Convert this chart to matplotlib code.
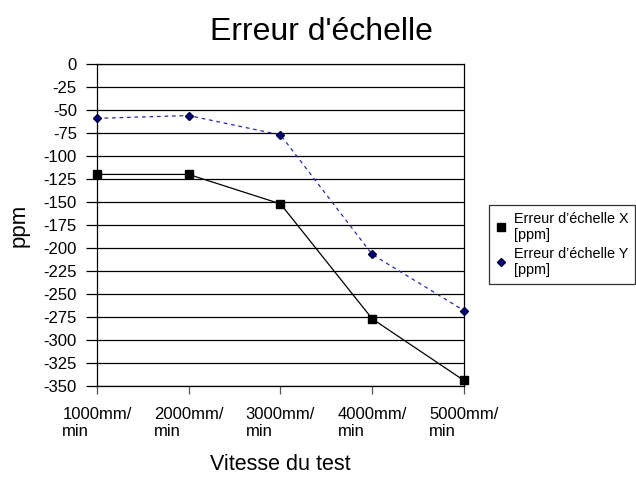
import matplotlib.pyplot as plt
from matplotlib.lines import Line2D

plt.rcParams['font.family'] = ['Liberation Sans', 'DejaVu Sans']

speeds = ["1000mm/\nmin", "2000mm/\nmin", "3000mm/\nmin", "4000mm/\nmin", "5000mm/\nmin"]
err_x = [-120, -120, -152, -277, -344]
err_y = [-59, -56, -77, -207, -268]
y_ticks = list(range(0, -351, -25))

fig = plt.figure(figsize=(6.36, 4.78), dpi=100)
ax = fig.add_axes([0.1525, 0.1925, 0.577, 0.6735])

pos = list(range(len(speeds)))
ax.plot(pos, err_x, color="black", linewidth=0.9, marker="s", markersize=6,
        markerfacecolor="black", markeredgecolor="black", clip_on=False, zorder=3)
ax.plot(pos, err_y, color="#2a2aa0", linewidth=0.9, linestyle=(0, (3, 3)),
        marker="D", markersize=4.5, markerfacecolor="#000080",
        markeredgecolor="#000040", clip_on=False, zorder=3)

ax.set_xlim(0, len(speeds) - 1)
ax.set_ylim(-350, 0)
ax.set_yticks(y_ticks)
ax.set_yticklabels([str(t) for t in y_ticks])
ax.set_xticks(pos)
ax.set_xticklabels(speeds, ha="center", multialignment="left")
ax.yaxis.grid(True, color="black", linewidth=0.9)
ax.set_axisbelow(True)
ax.tick_params(axis="both", labelsize=12, direction="out", width=0.9, color="black")
ax.tick_params(axis="y", length=8, pad=6.5)
ax.tick_params(axis="x", length=6, pad=9, color="#555555")
for s in ax.spines.values():
    s.set_linewidth(0.9)

ax.set_ylabel("ppm", fontsize=16, labelpad=10)
ax.set_xlabel("Vitesse du test", fontsize=15.5, labelpad=11)
fig.suptitle("Erreur d'échelle", fontsize=23, x=0.506, y=0.965)

handles = [
    Line2D([0], [0], linestyle="none", marker="s", markersize=6,
           markerfacecolor="black", markeredgecolor="black"),
    Line2D([0], [0], linestyle="none", marker="D", markersize=4.5,
           markerfacecolor="#000080", markeredgecolor="#000040"),
]
labels = ["Erreur d\u2019échelle X\n[ppm]", "Erreur d\u2019échelle Y\n[ppm]"]
leg = fig.legend(handles, labels, loc="upper left", bbox_to_anchor=(0.769, 0.571),
                 bbox_transform=fig.transFigure, fontsize=10.4, frameon=True,
                 fancybox=False, borderaxespad=0, handlelength=0.8,
                 handletextpad=0.5, labelspacing=0.35, borderpad=0.45)
leg.get_frame().set_edgecolor("black")
leg.get_frame().set_linewidth(0.9)

fig.savefig("out.png", dpi=100)
